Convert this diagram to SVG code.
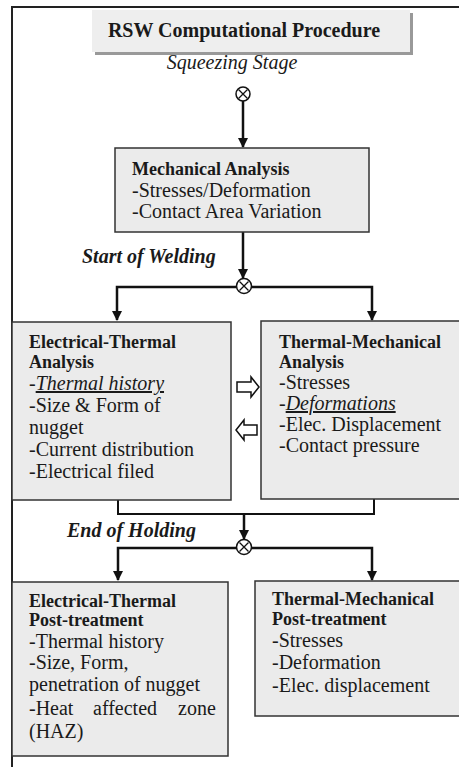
<svg xmlns="http://www.w3.org/2000/svg" width="459" height="767" viewBox="0 0 459 767">
<defs>
<marker id="ah" viewBox="0 0 10 10" refX="9" refY="5" markerWidth="4" markerHeight="4.4" orient="auto" markerUnits="strokeWidth">
<path d="M0,0 L10,5 L0,10 z" fill="#111"/>
</marker>
</defs>
<style>
.t{font-family:"Liberation Serif","Times New Roman",serif;font-size:20px;fill:#1a1a1a}
.b{font-weight:bold;font-size:18px}
.i{font-style:italic}
.bi{font-weight:bold;font-style:italic}
.box{fill:#ebebeb;stroke:#333;stroke-width:1.5}
.con{fill:none;stroke:#111;stroke-width:2}
.conn{fill:none;stroke:#111;stroke-width:2.5}
.circ{fill:#fff;stroke:#111;stroke-width:1.5}
.x{stroke:#111;stroke-width:1.3}
.ha{fill:#fff;stroke:#111;stroke-width:1.5}
</style>
<rect x="0" y="0" width="459" height="767" fill="#fff"/>
<path d="M12,767 L12,7 L459,7" fill="none" stroke="#222" stroke-width="2"/>

<g id="title">
<rect x="95" y="13" width="318" height="42" fill="#999"/>
<rect x="92" y="10" width="318" height="42" fill="#eeeeee"/>
<text class="t b" x="244" y="37" text-anchor="middle" style="font-size:20px">RSW Computational Procedure</text>
</g>

<g id="squeezing">
<text class="t i" x="232" y="69" text-anchor="middle">Squeezing Stage</text>
</g>

<g id="connectors">
<line class="conn" x1="243" y1="101" x2="243" y2="147" marker-end="url(#ah)"/>
<line class="conn" x1="243" y1="232" x2="243" y2="278" marker-end="url(#ah)"/>
<path class="conn" d="M236,287 L117,287 L117,320" marker-end="url(#ah)"/>
<path class="conn" d="M251,287 L372,287 L372,320" marker-end="url(#ah)"/>
<path class="con" d="M118,500 L118,514 L374,514 L374,499"/>
<line class="conn" x1="244" y1="514" x2="244" y2="539" marker-end="url(#ah)"/>
<path class="conn" d="M237,548 L118,548 L118,580" marker-end="url(#ah)"/>
<path class="conn" d="M251,548 L372,548 L372,580" marker-end="url(#ah)"/>
<path class="ha" d="M237,382 L251,382 L251,377 L259,387 L251,397 L251,392 L237,392 Z"/>
<path class="ha" d="M257,425 L244,425 L244,420 L236,430 L244,440 L244,435 L257,435 Z"/>
</g>

<g id="junction1">
<circle class="circ" cx="243" cy="94" r="7"/>
<path class="x" d="M238.5,89.5 L247.5,98.5 M247.5,89.5 L238.5,98.5"/>
</g>
<g id="junction2">
<circle class="circ" cx="244" cy="286" r="7.5"/>
<path class="x" d="M239.5,281.5 L248.5,290.5 M248.5,281.5 L239.5,290.5"/>
</g>
<g id="junction3">
<circle class="circ" cx="244" cy="547" r="7.5"/>
<path class="x" d="M239.5,542.5 L248.5,551.5 M248.5,542.5 L239.5,551.5"/>
</g>

<g id="mechanical">
<rect class="box" x="115" y="148" width="254" height="84"/>
<text class="t b" x="132" y="175">Mechanical Analysis</text>
<text class="t" x="132" y="197">-Stresses/Deformation</text>
<text class="t" x="132" y="218">-Contact Area Variation</text>
</g>

<g id="start-label">
<text class="t bi" x="82" y="263">Start of Welding</text>
</g>

<g id="electrical-thermal">
<rect class="box" x="12" y="322" width="219" height="178"/>
<text class="t b" x="29" y="348">Electrical-Thermal</text>
<text class="t b" x="29" y="368">Analysis</text>
<text class="t" x="29" y="390">-<tspan class="i" text-decoration="underline">Thermal history</tspan></text>
<text class="t" x="29" y="412">-Size &amp; Form of</text>
<text class="t" x="29" y="434">nugget</text>
<text class="t" x="29" y="456">-Current distribution</text>
<text class="t" x="29" y="478">-Electrical filed</text>
</g>

<g id="thermal-mechanical">
<rect class="box" x="261" y="321" width="210" height="178"/>
<text class="t b" x="279" y="348">Thermal-Mechanical</text>
<text class="t b" x="279" y="368">Analysis</text>
<text class="t" x="279" y="389">-Stresses</text>
<text class="t" x="279" y="410">-<tspan class="i" text-decoration="underline">Deformations</tspan></text>
<text class="t" x="279" y="431">-Elec. Displacement</text>
<text class="t" x="279" y="452">-Contact pressure</text>
</g>

<g id="end-label">
<text class="t bi" x="67" y="537">End of Holding</text>
</g>

<g id="et-post">
<rect class="box" x="12" y="582" width="216" height="174"/>
<text class="t b" x="29" y="607">Electrical-Thermal</text>
<text class="t b" x="29" y="626">Post-treatment</text>
<text class="t" x="29" y="648">-Thermal history</text>
<text class="t" x="29" y="669">-Size, Form,</text>
<text class="t" x="29" y="691">penetration of nugget</text>
<text class="t" x="29" y="715">-Heat<tspan x="93">affected</tspan><tspan x="178">zone</tspan></text>
<text class="t" x="29" y="738">(HAZ)</text>
</g>

<g id="tm-post">
<rect class="box" x="255" y="581" width="216" height="135"/>
<text class="t b" x="272" y="605">Thermal-Mechanical</text>
<text class="t b" x="272" y="625">Post-treatment</text>
<text class="t" x="272" y="647">-Stresses</text>
<text class="t" x="272" y="669">-Deformation</text>
<text class="t" x="272" y="692">-Elec. displacement</text>
</g>
</svg>
